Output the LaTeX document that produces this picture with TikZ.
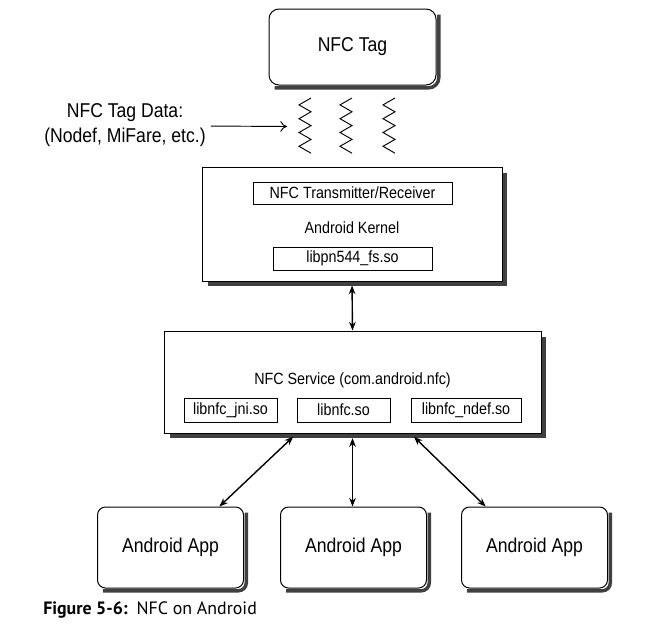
\documentclass[tikz,border=0pt]{standalone}
\usepackage{fontspec}
\setmainfont{Liberation Sans}[FakeStretch=0.88]
\newfontfamily\capfont{PT Sans}
\usetikzlibrary{positioning,arrows.meta,calc}
\definecolor{shadowgray}{RGB}{64,64,64}

\tikzset{
  shadowbar/.style={draw=shadowgray, line width=2.6pt},
  tagbox/.style={draw, fill=white, rounded corners=7.5pt, line width=0.75pt, inner sep=0pt, font=\fontsize{15}{18}\selectfont},
  layerbox/.style={draw, fill=white, line width=0.75pt, inner sep=0pt},
  libbox/.style={draw, fill=white, line width=0.6pt, inner sep=0pt, font=\fontsize{12.2}{14}\selectfont},
  smalltext/.style={inner sep=0pt, font=\fontsize{12.2}{14}\selectfont},
  link/.style={{Stealth[length=6.5pt,width=5pt]}-{Stealth[length=6.5pt,width=5pt]}, line width=1.05pt},
}

\begin{document}
\begin{tikzpicture}[x=0.75pt,y=0.75pt,yscale=-1,xscale=1]
\useasboundingbox (0,0) rectangle (670,632);

% NFC Tag
\node[tagbox, minimum width=125.25pt, minimum height=57pt] (tag) at (352.5,47) {NFC Tag};
% Text Node
\node[align=center, inner sep=3.75pt, font=\fontsize{15}{18.75}\selectfont] (tagdata) at (125,125.5) {NFC Tag Data:\\(Nodef, MiFare, etc.)};
\coordinate (wave) at (287,126.5);
\draw[-{To[length=5pt,width=8pt]}, line width=0.7pt] (tagdata) -- (wave);
% Waves
\foreach \zx in {305,346,389}
  \draw[line width=0.7pt] (\zx+6,98) \foreach \k in {1,...,8} { -- ({\zx+6*cos(180*\k)},{98+6.9*\k}) };

% Android Kernel
\node[layerbox, minimum width=225pt, minimum height=85.5pt] (kernel) at (352,224) {};
\node[libbox, minimum width=149.25pt, minimum height=16.5pt] (trx) at (352.5,193) {NFC Transmitter/Receiver};
\node[smalltext] (kerneltxt) at (352,228) {Android Kernel};
\node[libbox, minimum width=119.25pt, minimum height=17.25pt] (pn) at (352.5,258.5) {libpn544\_fs.so};

% NFC Service
\node[layerbox, minimum width=282.75pt, minimum height=76.5pt] (service) at (352.5,382) {};
\node[smalltext] (servicetxt) at (352.5,380) {NFC Service (com.android.nfc)};
\node[libbox, minimum width=69.75pt, minimum height=18pt] (jni) at (230.5,410) {libnfc\_jni.so};
\node[libbox, minimum width=69.75pt, minimum height=18pt] (libnfc) at (343.5,410) {libnfc.so};
\node[libbox, minimum width=82.5pt, minimum height=18pt] (ndef) at (466,410) {libnfc\_ndef.so};

% Apps
\foreach \i/\ax in {1/170.5,2/353.5,3/534.5}
  \node[tagbox, rounded corners=6pt, minimum width=109.5pt, minimum height=60.75pt] (app\i) at (\ax,547.5) {Android App};

% Shadows
\foreach \n/\r in {tag/7.5pt,kernel/0pt,service/0pt,app1/6pt,app2/6pt,app3/6pt}
  \draw[shadowbar, rounded corners=\r] ($(\n.north east)+(2.3,6)$) -- ($(\n.south east)+(2.3,2.3)$) -- ($(\n.south west)+(6,2.3)$);

% Connections
\draw[link, shorten <=3pt] (kernel.south) -- (service.north);
\draw[link, shorten <=3.5pt] (libnfc.west |- service.south) -- (app1.40);
\draw[link, shorten <=3.5pt] (service.south) -- (service.south |- app2.north);
\draw[link, shorten <=3.5pt] (ndef.west |- service.south) -- (app3.140);

% Caption
\node[anchor=west, inner sep=0pt, font=\capfont\fontsize{13.4}{15}\selectfont] (caption) at (43,610) {\textbf{Figure 5-6:}\enspace NFC on Android};
\end{tikzpicture}
\end{document}
